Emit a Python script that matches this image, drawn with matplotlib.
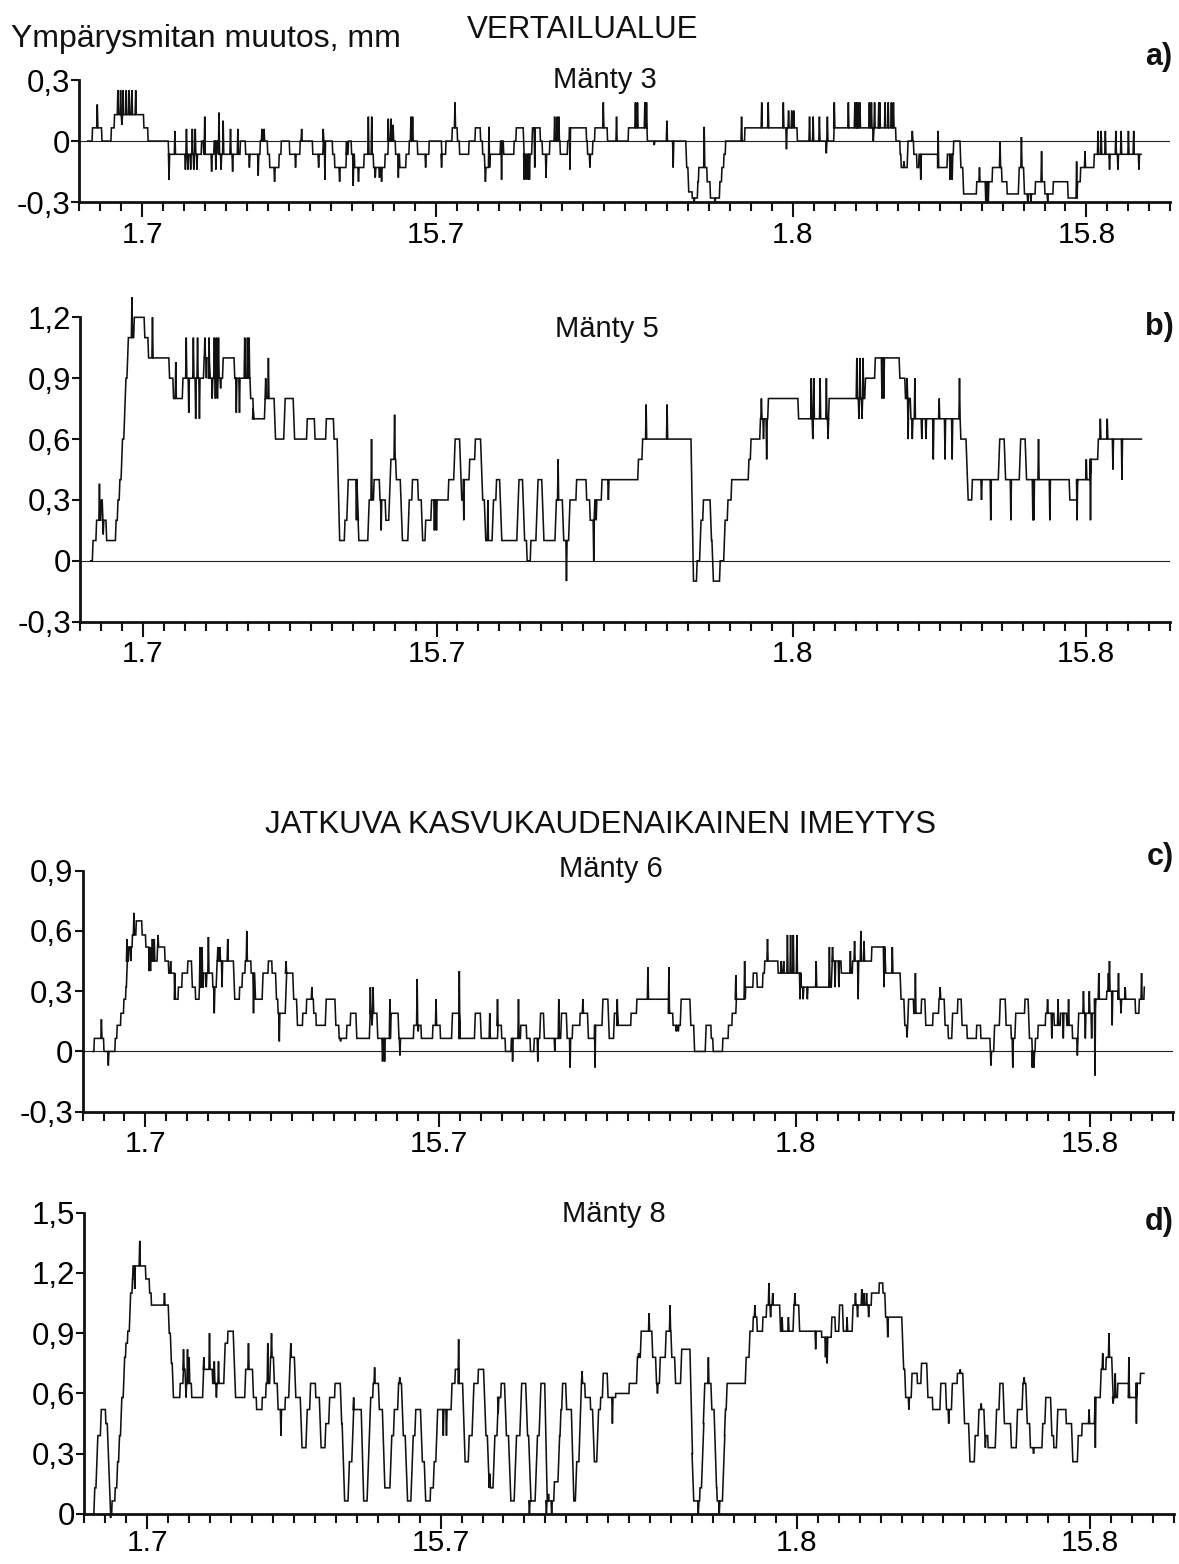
import numpy as np
import matplotlib
matplotlib.use("Agg")
import matplotlib.pyplot as plt

plt.rcParams['font.family'] = ['Liberation Sans', 'DejaVu Sans']

# x = days from 1.7 (1.7 = 0, 15.7 = 14, 1.8 = 31, 15.8 = 45)
date_pos = [0, 14, 31, 45]
date_lab = ['1.7', '15.7', '1.8', '15.8']

# --- a) Mänty 3 : base steps (start day, mm) and one-sample spikes (day, mm)
a_steps = [(-2.6, 0.0), (-2.4, 0.065), (-1.95, 0.0), (-1.5, 0.065), (-1.35, 0.13), (0.05, 0.065),
           (0.25, 0.0), (1.23, -0.065), (2.8, 0.0), (2.9, -0.065), (3.4, 0.0), (3.6, -0.065),
           (4.65, 0.0), (4.9, -0.065), (5.6, 0.0), (5.95, -0.065), (6.05, -0.13), (6.5, -0.065),
           (6.6, 0.0), (7.0, -0.065), (7.5, 0.0), (8.1, -0.065), (8.6, 0.0), (9.05, -0.065),
           (9.15, -0.13), (9.7, -0.065), (9.8, 0.0), (9.95, -0.065), (10.1, -0.13), (10.55, -0.065),
           (11.0, -0.13), (11.55, -0.065), (11.7, 0.0), (12.05, -0.065), (12.25, -0.13),
           (12.55, -0.065), (12.7, 0.0), (13.1, -0.065), (13.65, 0.0), (14.25, -0.065), (14.45, 0.0),
           (14.75, 0.065), (15.0, 0.0), (15.1, -0.065), (15.55, 0.0), (15.85, 0.065), (16.1, 0.0),
           (16.2, -0.065), (16.3, -0.13), (16.55, -0.065), (17.05, 0.0), (17.2, -0.065), (17.7, 0.0),
           (17.8, 0.065), (18.15, -0.065), (18.55, 0.065), (18.95, 0.0), (19.05, -0.065), (19.4, 0.0),
           (19.9, -0.065), (20.25, 0.0), (20.35, 0.065), (21.15, 0.0), (21.2, -0.065), (21.45, 0.0),
           (21.55, 0.065), (22.15, 0.0), (23.15, 0.065), (24.05, 0.0), (25.9, -0.13), (26.0, -0.25),
           (26.2, -0.28), (26.45, -0.2), (26.5, -0.13), (26.9, -0.2), (27.05, -0.28), (27.5, -0.2),
           (27.6, -0.13), (27.7, -0.065), (27.78, 0.0), (28.7, 0.065), (30.65, 0.065), (31.2, 0.0),
           (32.95, 0.065), (35.9, 0.0), (36.1, -0.065), (36.15, -0.13), (36.45, 0.0), (36.75, -0.065),
           (36.9, -0.13), (37.0, -0.065), (37.9, -0.13), (38.35, -0.065), (38.65, 0.0), (38.97, -0.13),
           (39.1, -0.26), (39.75, -0.2), (40.5, -0.13), (40.95, -0.2), (41.2, -0.26), (41.75, -0.13),
           (42.0, -0.26), (42.55, -0.2), (43.0, -0.26), (43.4, -0.2), (44.1, -0.28), (44.55, -0.2),
           (44.7, -0.13), (45.35, -0.065), (47.6, -0.065)]
a_spikes = [(-2.15, 0.18), (-1.17, 0.25), (-1.04, 0.25), (-0.98, 0.08), (-0.92, 0.25), (-0.77, 0.25),
            (-0.63, 0.25), (-0.5, 0.25), (-0.32, 0.25), (1.27, -0.19), (1.55, 0.05), (2.05, -0.14),
            (2.1, 0.06), (2.17, -0.14), (2.3, -0.14), (2.38, 0.06), (2.45, -0.14), (2.52, 0.06),
            (2.6, -0.14), (2.97, 0.12), (3.3, -0.15), (3.5, -0.14), (3.65, 0.14), (3.75, -0.14),
            (3.85, 0.1), (4.2, 0.06), (4.3, -0.15), (4.55, 0.06), (5.1, -0.13), (5.52, -0.17),
            (5.7, 0.06), (5.8, 0.06), (6.3, -0.2), (7.3, -0.13), (7.59, 0.06), (8.4, -0.13),
            (8.62, 0.06), (8.7, -0.19), (9.4, -0.2), (9.73, 0.0), (9.89, 0.0), (10.05, -0.22),
            (10.3, -0.2), (10.77, 0.12), (10.93, 0.12), (11.1, -0.18), (11.3, -0.18), (11.4, -0.2),
            (11.72, 0.11), (11.85, 0.11), (11.95, 0.08), (12.2, -0.18), (12.8, 0.12), (12.88, 0.12),
            (13.5, -0.13), (14.26, -0.13), (14.9, 0.19), (16.35, -0.2), (16.52, 0.07), (17.12, -0.19),
            (18.2, -0.19), (18.3, -0.19), (18.4, -0.19), (18.45, -0.19), (18.7, -0.13), (19.24, -0.18),
            (19.65, 0.12), (19.77, 0.12), (19.85, 0.12), (20.38, -0.14), (21.33, -0.13), (21.97, 0.19),
            (22.6, 0.12), (23.5, 0.19), (23.6, 0.19), (23.95, 0.19), (24.03, 0.19), (24.4, -0.02),
            (25.0, 0.1), (25.3, -0.13), (26.3, -0.3), (26.78, 0.07), (27.3, -0.3), (28.56, 0.12),
            (29.52, 0.19), (29.83, 0.19), (30.55, 0.19), (30.7, -0.04), (30.8, 0.15), (30.95, 0.15),
            (31.05, 0.15), (31.8, 0.12), (31.97, 0.12), (32.27, 0.12), (32.6, -0.06), (32.65, 0.12),
            (32.98, 0.19), (33.65, 0.19), (33.96, 0.19), (34.05, 0.19), (34.1, 0.19), (34.2, 0.19),
            (34.65, 0.19), (34.75, 0.19), (34.84, 0.0), (34.9, 0.19), (35.1, 0.19), (35.15, 0.19),
            (35.4, 0.19), (35.55, 0.19), (35.7, 0.19), (35.8, 0.19), (36.3, -0.1), (36.7, 0.05),
            (37.1, -0.19), (37.93, 0.05), (38.5, -0.19), (38.6, -0.19), (39.9, -0.13), (40.2, -0.3),
            (40.32, -0.3), (40.88, 0.0), (41.9, 0.02), (42.2, -0.3), (42.35, -0.3), (42.86, -0.05),
            (43.15, -0.3), (44.53, -0.1), (44.93, -0.05), (45.55, 0.05), (45.7, 0.05), (45.9, 0.05),
            (46.1, -0.14), (46.4, 0.05), (46.5, -0.14), (46.65, 0.05), (47.0, 0.05), (47.25, 0.05),
            (47.5, -0.14)]

# --- b) Mänty 5
b_steps = [(-2.5, 0.0), (-2.42, 0.1), (-2.25, 0.2), (-2.02, 0.3), (-1.95, 0.2), (-1.77, 0.1),
           (-1.32, 0.2), (-1.23, 0.3), (-1.14, 0.4), (-1.05, 0.6), (-0.92, 0.9), (-0.77, 1.1),
           (-0.45, 1.2), (0.05, 1.1), (0.23, 1.0), (1.23, 0.9), (1.42, 0.8), (1.87, 0.9), (2.88, 1.0),
           (3.15, 0.9), (3.79, 1.0), (4.34, 0.9), (5.1, 0.8), (5.24, 0.7), (5.79, 0.8), (6.25, 0.6),
           (6.71, 0.8), (7.16, 0.6), (7.8, 0.7), (8.17, 0.6), (8.71, 0.7), (9.08, 0.6), (9.26, 0.1),
           (9.6, 0.2), (9.72, 0.4), (10.2, 0.2), (10.26, 0.1), (10.72, 0.3), (10.99, 0.4), (11.27, 0.3),
           (11.55, 0.2), (11.72, 0.5), (12.05, 0.4), (12.27, 0.1), (12.63, 0.3), (12.82, 0.4),
           (13.1, 0.3), (13.27, 0.1), (13.45, 0.2), (13.73, 0.3), (14.55, 0.4), (14.82, 0.6),
           (15.1, 0.3), (15.28, 0.4), (15.55, 0.5), (15.82, 0.6), (16.1, 0.3), (16.28, 0.1),
           (16.65, 0.3), (16.83, 0.4), (17.01, 0.1), (17.83, 0.4), (18.1, 0.1), (18.29, 0.0),
           (18.47, 0.1), (18.74, 0.4), (19.02, 0.1), (19.65, 0.3), (20.0, 0.1), (20.3, 0.3),
           (20.65, 0.4), (21.13, 0.3), (21.3, 0.2), (21.52, 0.3), (21.86, 0.4), (23.6, 0.5),
           (23.8, 0.6), (26.14, -0.1), (26.4, 0.0), (26.55, 0.2), (26.7, 0.3), (27.05, 0.1),
           (27.14, -0.1), (27.5, 0.0), (27.7, 0.2), (27.87, 0.3), (28.05, 0.4), (28.87, 0.5),
           (28.97, 0.6), (29.42, 0.7), (29.8, 0.8), (31.24, 0.7), (32.7, 0.8), (34.43, 0.9),
           (34.9, 1.0), (36.07, 0.9), (36.34, 0.8), (36.6, 0.7), (38.98, 0.6), (39.26, 0.3),
           (39.53, 0.4), (40.8, 0.6), (41.08, 0.4), (41.8, 0.6), (42.08, 0.4), (44.18, 0.3),
           (44.54, 0.4), (45.18, 0.5), (45.54, 0.6), (47.63, 0.6)]
b_spikes = [(-2.08, 0.38), (-1.9, 0.13), (-0.53, 1.3), (0.45, 1.2), (1.56, 0.98), (2.06, 1.1),
            (2.18, 0.73), (2.4, 1.1), (2.51, 0.7), (2.6, 1.1), (2.69, 0.7), (2.95, 1.1), (3.02, 0.9),
            (3.15, 1.1), (3.3, 0.8), (3.4, 1.1), (3.45, 0.8), (3.5, 1.1), (3.55, 0.8), (3.6, 1.1),
            (3.7, 0.85), (4.45, 0.73), (4.6, 0.73), (4.85, 1.1), (4.98, 1.1), (5.06, 1.1), (5.25, 0.75),
            (5.85, 0.9), (5.98, 1.0), (10.18, 0.2), (10.9, 0.6), (11.36, 0.15), (12.0, 0.72),
            (13.9, 0.15), (14.0, 0.15), (15.3, 0.2), (16.45, 0.3), (19.8, 0.5), (20.2, -0.1),
            (21.5, 0.0), (21.62, 0.2), (22.2, 0.3), (24.0, 0.77), (25.0, 0.77), (29.5, 0.8),
            (29.6, 0.6), (29.75, 0.5), (31.88, 0.9), (31.95, 0.6), (32.0, 0.9), (32.3, 0.9),
            (32.6, 0.9), (32.68, 0.6), (34.05, 1.0), (34.15, 0.7), (34.2, 1.0), (34.3, 0.7),
            (34.35, 1.0), (35.25, 0.8), (35.34, 0.8), (36.45, 0.9), (36.5, 0.6), (36.7, 0.6),
            (36.82, 0.9), (37.15, 0.6), (37.35, 0.6), (37.7, 0.5), (37.98, 0.8), (38.26, 0.5),
            (38.6, 0.5), (38.95, 0.9), (40.0, 0.3), (40.44, 0.2), (41.4, 0.2), (42.45, 0.2),
            (42.5, 0.2), (42.72, 0.6), (43.26, 0.2), (44.56, 0.2), (45.0, 0.5), (45.2, 0.2),
            (45.67, 0.7), (46.0, 0.7), (46.27, 0.45), (46.7, 0.4)]

# --- c) Mänty 6
c_steps = [(-2.5, 0.0), (-2.46, 0.065), (-2.0, 0.0), (-1.46, 0.065), (-1.37, 0.13), (-1.19, 0.19),
           (-1.05, 0.26), (-0.95, 0.32), (-0.91, 0.45), (-0.82, 0.52), (-0.64, 0.58), (-0.46, 0.65),
           (-0.18, 0.58), (0.0, 0.52), (0.27, 0.45), (0.55, 0.52), (0.91, 0.45), (1.09, 0.39),
           (1.37, 0.26), (1.55, 0.32), (1.73, 0.39), (2.0, 0.45), (2.19, 0.32), (2.37, 0.26),
           (2.55, 0.32), (2.75, 0.39), (3.19, 0.32), (3.37, 0.45), (4.19, 0.26), (4.47, 0.32),
           (4.6, 0.39), (4.74, 0.45), (5.02, 0.39), (5.2, 0.26), (5.56, 0.39), (5.84, 0.45),
           (6.02, 0.39), (6.2, 0.26), (6.3, 0.19), (6.66, 0.39), (7.02, 0.26), (7.2, 0.13),
           (7.48, 0.19), (7.66, 0.26), (8.0, 0.19), (8.12, 0.13), (8.57, 0.26), (9.03, 0.13),
           (9.21, 0.065), (9.58, 0.13), (9.76, 0.19), (10.03, 0.065), (10.67, 0.19), (11.03, 0.065),
           (11.67, 0.19), (12.04, 0.065), (12.77, 0.13), (13.13, 0.065), (13.68, 0.13), (14.04, 0.065),
           (14.59, 0.19), (14.96, 0.065), (15.68, 0.19), (15.96, 0.065), (16.78, 0.13), (16.96, 0.065),
           (17.14, 0.0), (17.42, 0.065), (17.87, 0.13), (18.15, 0.065), (18.33, 0.0), (18.51, 0.065),
           (18.79, 0.19), (18.97, 0.065), (19.79, 0.19), (20.06, 0.065), (20.34, 0.13), (20.7, 0.19),
           (21.07, 0.065), (21.4, 0.13), (21.76, 0.26), (22.04, 0.065), (22.31, 0.19), (22.49, 0.13),
           (23.13, 0.19), (23.4, 0.26), (24.95, 0.19), (25.13, 0.13), (25.49, 0.26), (25.95, 0.13),
           (26.13, 0.0), (26.68, 0.13), (26.95, 0.065), (27.04, 0.0), (27.5, 0.065), (27.77, 0.13),
           (27.95, 0.19), (28.14, 0.26), (28.59, 0.32), (28.95, 0.39), (29.14, 0.32), (29.41, 0.39),
           (29.5, 0.45), (30.14, 0.39), (31.24, 0.32), (32.69, 0.45), (33.15, 0.39), (33.69, 0.45),
           (34.6, 0.52), (35.24, 0.39), (35.97, 0.26), (36.15, 0.13), (36.33, 0.26), (36.6, 0.19),
           (36.97, 0.26), (37.15, 0.13), (37.52, 0.19), (37.8, 0.26), (38.07, 0.13), (38.25, 0.065),
           (38.43, 0.19), (38.7, 0.26), (38.88, 0.13), (39.15, 0.065), (39.6, 0.13), (39.8, 0.065),
           (40.25, 0.0), (40.43, 0.13), (40.7, 0.26), (40.98, 0.13), (41.25, 0.065), (41.44, 0.19),
           (41.9, 0.26), (42.07, 0.065), (42.25, 0.0), (42.4, 0.065), (42.53, 0.13), (42.89, 0.19),
           (43.3, 0.13), (43.6, 0.19), (43.9, 0.13), (44.17, 0.065), (44.44, 0.19), (45.26, 0.26),
           (45.81, 0.3), (46.35, 0.26), (47.17, 0.19), (47.35, 0.26), (47.59, 0.32)]
c_spikes = [(-2.1, 0.16), (-1.77, -0.07), (-0.88, 0.56), (-0.7, 0.45), (-0.55, 0.69), (0.18, 0.4),
            (0.24, 0.4), (0.33, 0.56), (0.42, 0.56), (0.6, 0.58), (1.2, 0.45), (1.4, 0.39),
            (2.6, 0.52), (2.7, 0.52), (2.9, 0.32), (3.0, 0.57), (3.28, 0.19), (3.45, 0.52),
            (3.55, 0.52), (3.65, 0.32), (3.92, 0.56), (4.83, 0.6), (5.15, 0.19), (6.38, 0.05),
            (6.7, 0.45), (7.93, 0.32), (9.3, 0.05), (10.72, 0.32), (10.8, 0.13), (10.85, 0.32),
            (11.3, -0.05), (11.4, -0.05), (11.65, 0.26), (12.13, -0.02), (12.95, 0.36), (13.0, 0.1),
            (13.85, 0.26), (14.96, 0.4), (16.41, 0.19), (16.78, 0.26), (17.5, -0.05), (17.78, 0.26),
            (18.7, -0.05), (19.51, 0.0), (19.7, 0.26), (20.24, -0.08), (20.85, 0.26), (21.43, -0.08),
            (22.49, 0.26), (23.95, 0.42), (24.95, 0.42), (25.3, 0.1), (25.4, 0.1), (28.14, 0.38),
            (28.56, 0.45), (29.65, 0.56), (30.3, 0.45), (30.42, 0.45), (30.6, 0.58), (30.75, 0.58),
            (30.88, 0.58), (31.05, 0.58), (31.2, 0.26), (31.35, 0.26), (31.55, 0.26), (31.97, 0.45),
            (32.6, 0.52), (32.75, 0.52), (32.87, 0.32), (33.05, 0.32), (33.6, 0.5), (33.8, 0.55),
            (33.97, 0.26), (34.1, 0.6), (34.25, 0.55), (35.2, 0.32), (35.6, 0.52), (36.3, 0.07),
            (36.7, 0.39), (37.88, 0.32), (38.3, 0.065), (40.3, -0.07), (41.34, -0.08), (42.27, -0.08),
            (42.35, -0.08), (43.0, 0.26), (43.2, 0.065), (43.5, 0.26), (43.75, 0.065), (44.0, 0.26),
            (44.42, -0.02), (44.71, 0.3), (44.8, 0.065), (44.99, 0.3), (45.1, 0.065), (45.26, -0.12),
            (45.44, 0.39), (45.9, 0.39), (45.95, 0.45), (46.08, 0.13), (46.38, 0.39), (46.5, 0.19),
            (46.7, 0.32), (47.48, 0.39)]

# --- d) Mänty 8
d_steps = [(-2.64, 0.0), (-2.55, 0.13), (-2.45, 0.39), (-2.24, 0.52), (-2.0, 0.45), (-1.91, 0.2),
           (-1.82, 0.0), (-1.7, 0.065), (-1.55, 0.13), (-1.46, 0.26), (-1.37, 0.39), (-1.28, 0.58),
           (-1.15, 0.78), (-1.04, 0.85), (-0.95, 0.91), (-0.86, 1.1), (-0.73, 1.17), (-0.7, 1.235),
           (-0.09, 1.17), (0.09, 1.1), (0.18, 1.04), (1.0, 0.9), (1.1, 0.75), (1.19, 0.58),
           (1.55, 0.65), (1.7, 0.72), (1.8, 0.65), (2.1, 0.58), (2.64, 0.72), (3.1, 0.65),
           (3.65, 0.85), (3.83, 0.91), (4.1, 0.58), (4.65, 0.72), (5.02, 0.58), (5.2, 0.52),
           (5.47, 0.58), (5.65, 0.65), (5.84, 0.78), (6.02, 0.65), (6.2, 0.52), (6.57, 0.58),
           (6.75, 0.78), (7.02, 0.58), (7.3, 0.33), (7.57, 0.52), (7.75, 0.65), (8.02, 0.58),
           (8.21, 0.33), (8.48, 0.45), (8.66, 0.58), (8.94, 0.65), (9.21, 0.45), (9.3, 0.065),
           (9.58, 0.26), (9.76, 0.52), (10.21, 0.065), (10.49, 0.39), (10.6, 0.58), (10.76, 0.65),
           (11.03, 0.52), (11.22, 0.13), (11.58, 0.39), (11.75, 0.52), (11.95, 0.65), (12.13, 0.39),
           (12.31, 0.065), (12.58, 0.39), (12.77, 0.52), (13.04, 0.26), (13.22, 0.065), (13.5, 0.13),
           (13.65, 0.26), (13.77, 0.52), (14.5, 0.65), (14.68, 0.72), (14.86, 0.65), (15.05, 0.26),
           (15.32, 0.39), (15.5, 0.65), (15.78, 0.72), (16.05, 0.39), (16.23, 0.13), (16.5, 0.39),
           (16.69, 0.58), (16.87, 0.65), (17.05, 0.39), (17.24, 0.065), (17.51, 0.39), (17.78, 0.65),
           (18.06, 0.39), (18.2, 0.065), (18.51, 0.39), (18.7, 0.65), (18.97, 0.065), (19.4, 0.16),
           (19.6, 0.39), (19.7, 0.52), (19.78, 0.65), (19.97, 0.52), (20.24, 0.065), (20.43, 0.26),
           (20.6, 0.65), (20.88, 0.58), (21.14, 0.52), (21.25, 0.26), (21.45, 0.52), (21.62, 0.58),
           (21.72, 0.7), (21.95, 0.58), (22.35, 0.6), (22.99, 0.65), (23.35, 0.78), (23.53, 0.91),
           (24.08, 0.78), (24.26, 0.65), (24.44, 0.78), (24.72, 0.91), (24.99, 0.78), (25.17, 0.65),
           (25.45, 0.82), (25.9, 0.3), (26.0, 0.065), (26.36, 0.13), (26.45, 0.45), (26.54, 0.65),
           (26.9, 0.52), (27.05, 0.13), (27.18, 0.065), (27.45, 0.39), (27.55, 0.52), (27.63, 0.65),
           (28.54, 0.78), (28.72, 0.91), (28.9, 0.98), (29.09, 0.91), (29.36, 0.98), (29.54, 1.04),
           (30.18, 0.91), (30.82, 1.04), (31.09, 0.91), (32.18, 0.88), (32.64, 0.98), (32.82, 0.91),
           (33.0, 1.04), (33.18, 0.91), (33.64, 1.04), (34.55, 1.1), (34.92, 1.15), (35.1, 1.1),
           (35.2, 0.98), (36.01, 0.72), (36.15, 0.58), (36.46, 0.7), (36.74, 0.65), (36.92, 0.75),
           (37.2, 0.58), (37.47, 0.52), (37.83, 0.65), (38.1, 0.52), (38.38, 0.65), (38.65, 0.7),
           (38.92, 0.45), (39.2, 0.26), (39.47, 0.39), (39.65, 0.52), (39.93, 0.39), (40.11, 0.33),
           (40.47, 0.52), (40.65, 0.65), (40.84, 0.45), (41.2, 0.33), (41.47, 0.52), (41.75, 0.65),
           (41.93, 0.45), (42.11, 0.33), (42.7, 0.45), (42.84, 0.58), (43.11, 0.39), (43.25, 0.33),
           (43.39, 0.52), (43.84, 0.45), (44.11, 0.26), (44.39, 0.39), (44.6, 0.45), (45.2, 0.58),
           (45.48, 0.72), (45.75, 0.78), (46.03, 0.58), (46.3, 0.65), (46.85, 0.58), (47.21, 0.65),
           (47.39, 0.7), (47.57, 0.7)]
d_spikes = [(-1.75, -0.02), (-0.6, 1.12), (-0.36, 1.36), (0.82, 1.1), (1.73, 0.82), (1.85, 0.58),
            (1.92, 0.82), (2.0, 0.78), (2.7, 0.78), (2.97, 0.9), (3.2, 0.76), (3.3, 0.58), (3.4, 0.76),
            (4.83, 0.85), (5.75, 0.85), (5.93, 0.9), (6.38, 0.39), (6.85, 0.85), (9.85, 0.58),
            (10.85, 0.73), (12.05, 0.68), (14.13, 0.39), (14.28, 0.39), (14.86, 0.87), (16.35, 0.2),
            (16.75, 0.5), (18.24, 0.0), (19.05, 0.0), (19.15, 0.1), (19.3, 0.0), (20.75, 0.71),
            (22.2, 0.45), (23.45, 0.8), (23.95, 1.0), (24.35, 0.6), (24.95, 1.04), (26.3, 0.0),
            (26.78, 0.78), (27.3, 0.0), (29.0, 1.04), (29.67, 1.15), (29.75, 0.98), (29.85, 1.1),
            (30.3, 0.98), (30.6, 0.98), (30.91, 1.1), (31.9, 0.82), (32.37, 0.78), (32.45, 0.75),
            (33.4, 0.98), (33.8, 1.1), (33.9, 0.98), (34.1, 1.12), (34.2, 1.1), (34.33, 1.1),
            (34.43, 0.98), (35.34, 0.88), (36.35, 0.52), (38.25, 0.45), (38.8, 0.72), (39.8, 0.55),
            (40.0, 0.33), (41.85, 0.68), (42.3, 0.3), (44.7, 0.45), (44.95, 0.52), (45.25, 0.33),
            (45.6, 0.8), (45.9, 0.9), (46.1, 0.55), (46.2, 0.7), (46.85, 0.78), (47.21, 0.45)]

# y axes
a_yt = [-0.3, 0, 0.3]
b_yt = [-0.3, 0, 0.3, 0.6, 0.9, 1.2]
c_yt = [-0.3, 0, 0.3, 0.6, 0.9]
d_yt = [0, 0.3, 0.6, 0.9, 1.2, 1.5]


def trace(steps, spikes, hw=0.028):
    # level changes take a few hourly readings, spikes are single readings
    ev = sorted([(t, 0, v) for t, v in steps] + [(t, 1, v) for t, v in spikes])
    xs, ys = [], []
    cur = None
    for t, kind, v in ev:
        if kind == 0:
            if cur is None:
                xs.append(t)
                ys.append(v)
            else:
                dur = min(0.12, abs(v - cur) * 0.35)
                xs += [t, t + dur]
                ys += [cur, v]
            cur = v
        else:
            xs += [t - hw, t, t + hw]
            ys += [cur, v, cur]
    return xs, ys


def ylab(v):
    if v == 0:
        return '0'
    return ('%.1f' % v).replace('.', ',')


fig = plt.figure(figsize=(11.79, 15.64), dpi=100)

panels = [
    ([0.0674, 0.8708, 0.9253, 0.0780], a_steps, a_spikes, a_yt, 2.5),
    ([0.0680, 0.6025, 0.9245, 0.1946], b_steps, b_spikes, b_yt, 2.5),
    ([0.0700, 0.2892, 0.9253, 0.1541], c_steps, c_spikes, c_yt, 2.5),
    ([0.0716, 0.0320, 0.9241, 0.1926], d_steps, d_spikes, d_yt, 0.0),
]

for rect, st, sp, yt, xpad in panels:
    ax = fig.add_axes(rect)
    x, y = trace(st, sp)
    ax.plot(x, y, color='#111111', lw=1.15, clip_on=False, zorder=3, solid_joinstyle='miter')
    if yt[0] < 0:
        ax.axhline(0, color='#222222', lw=0.8, zorder=2)
    ax.set_xlim(-3, 49)
    ax.set_ylim(yt[0], yt[-1])
    ax.set_xticks(date_pos)
    ax.set_xticklabels(date_lab)
    ax.set_xticks(np.arange(-3, 50), minor=True)
    ax.set_yticks(yt)
    ax.set_yticklabels([ylab(v) for v in yt])
    ax.tick_params(axis='x', which='major', length=11, width=1.5, labelsize=21.5, pad=xpad, color='#111111')
    ax.tick_params(axis='x', which='minor', length=6.5, width=1.5, color='#111111')
    ax.tick_params(axis='y', which='major', length=5.5, width=1.5, labelsize=22.5, pad=1, color='#111111')
    for s in ['top', 'right']:
        ax.spines[s].set_visible(False)
    for s in ['left', 'bottom']:
        ax.spines[s].set_linewidth(2)
        ax.spines[s].set_color('#111111')


def ftxt(px, py, s, **kw):
    fig.text(px / 1179, 1 - py / 1564, s, va='baseline', color='#111111', **kw)


ftxt(11, 47, 'Ympärysmitan muutos, mm', fontsize=23, ha='left')
ftxt(583, 38, 'VERTAILUALUE', fontsize=22.5, ha='center')
ftxt(605, 88, 'Mänty 3', fontsize=21, ha='center')
ftxt(1172, 65, 'a)', fontsize=22, ha='right', fontweight='bold')
ftxt(607, 337, 'Mänty 5', fontsize=21, ha='center')
ftxt(1174, 335, 'b)', fontsize=22, ha='right', fontweight='bold')
ftxt(601, 833, 'JATKUVA KASVUKAUDENAIKAINEN IMEYTYS', fontsize=22.5, ha='center')
ftxt(611, 877, 'Mänty 6', fontsize=21, ha='center')
ftxt(1174, 865, 'c)', fontsize=22, ha='right', fontweight='bold')
ftxt(614, 1222, 'Mänty 8', fontsize=21, ha='center')
ftxt(1174, 1230, 'd)', fontsize=22, ha='right', fontweight='bold')

fig.savefig('out.png', dpi=100, facecolor='white')
